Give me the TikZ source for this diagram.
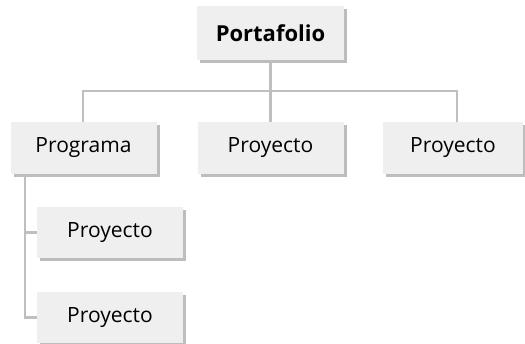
\documentclass[tikz,border=0pt]{standalone}
\usepackage{fontspec}
\setmainfont{Open Sans}
\usetikzlibrary{shadows,backgrounds}
\definecolor{boxfill}{HTML}{EFEFEF}
\definecolor{shadowgray}{HTML}{BDBDBD}
\definecolor{linegray}{HTML}{BFBFBF}
\tikzset{
  box/.style={fill=boxfill, minimum width=146pt, minimum height=52pt, inner sep=0pt,
    font=\fontsize{21}{25}\selectfont,
    drop shadow={shadow xshift=3pt, shadow yshift=-3pt, fill=shadowgray, opacity=1}},
  conn/.style={draw=linegray, line width=2.2pt}
}
\begin{document}
\begin{tikzpicture}[x=1pt,y=-1pt]
\useasboundingbox (0,0) rectangle (525,344);
\node[box, minimum width=147pt, minimum height=54pt, font=\fontsize{22}{26}\selectfont\bfseries] (port) at (270.5,33) {Portafolio};
\node[box] (prog) at (83.5,148) {Programa};
\node[box] (p2) at (270.5,148) {Proyecto};
\node[box, minimum width=140pt] (p3) at (453,148) {Proyecto};
\node[box, minimum height=51pt] (c1) at (110,232.5) {Proyecto};
\node[box, minimum height=51pt] (c2) at (110,317.5) {Proyecto};
\coordinate (busL) at (83,91);
\coordinate (busR) at (457,91);
\coordinate (busM) at (270.5,91);
\coordinate (spine) at (25,174);
\begin{scope}[on background layer]
\draw[conn] (port.south) -- (busM);
\draw[conn] (prog.north -| busL) -- (busL) -- (busR) -- (busR |- p3.north);
\draw[conn] (busM) -- (p2.north);
\draw[conn] (spine) |- (c2.west);
\draw[conn] (spine |- c1.west) -- (c1.west);
\end{scope}
\end{tikzpicture}
\end{document}
